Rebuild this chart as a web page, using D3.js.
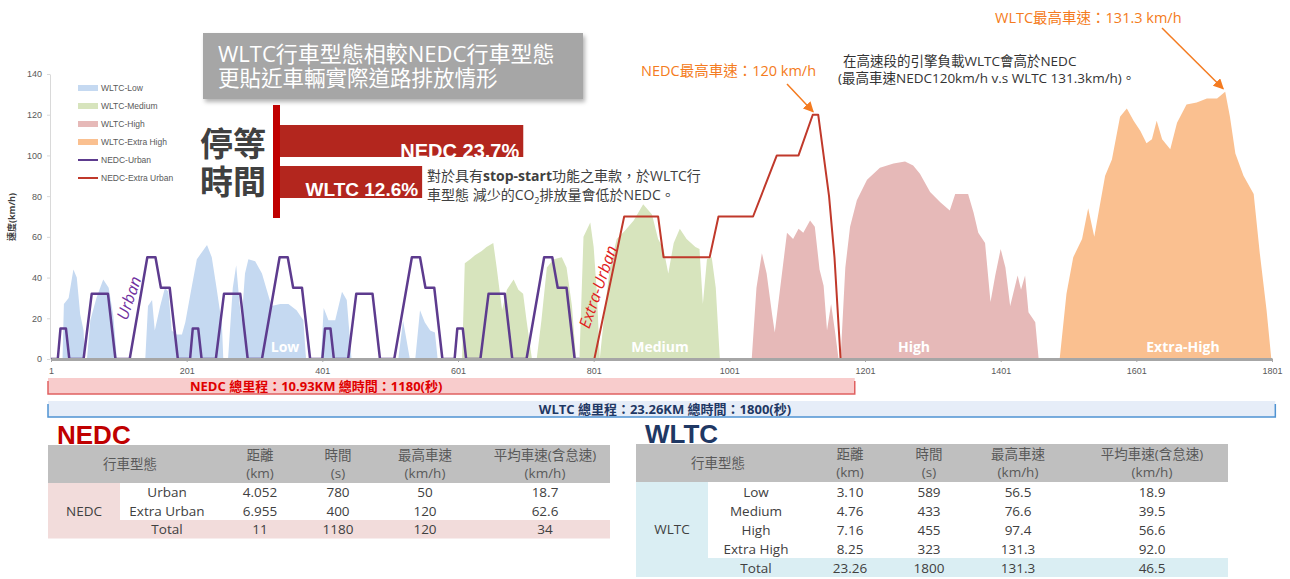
<!DOCTYPE html>
<html lang="zh-Hant">
<head>
<meta charset="UTF-8">
<title>WLTC vs NEDC 行車型態</title>
<script src="https://d3js.org/d3.v7.min.js"></script>
<style>
    body { margin: 0; background: #fff; }
    svg { display: block; font-family: "Open Sans", "Noto Sans CJK TC", sans-serif; }
    .axis text { fill: #595959; font-size: 9px; font-family: "Liberation Sans", "Noto Sans CJK TC", sans-serif; }
</style>
</head>
<body>
<svg id="chart" width="1290" height="579"></svg>
<script>
// ---- data: [second, km/h] ----
const wltcLow = [
    [1, 0], [18, 0], [20, 27], [27, 30], [34, 44], [39, 40], [44, 22], [49, 14], [51, 0],
    [54, 0], [59, 19], [68, 30], [78, 39], [86, 35], [93, 21], [98, 0],
    [140, 0], [144, 26], [150, 29], [154, 14], [162, 26], [169, 35], [174, 33], [179, 14], [186, 12], [194, 12],
    [199, 18], [206, 31], [216, 49], [231, 56], [238, 50], [245, 35], [253, 17], [255, 0],
    [262, 0], [269, 35], [274, 46], [279, 27], [282, 19], [287, 42], [292, 49], [302, 48], [312, 42], [319, 34],
    [326, 26], [339, 27], [351, 27], [363, 24], [373, 19], [377, 0],
    [399, 0], [403, 25], [410, 19], [420, 19], [430, 33], [437, 29], [444, 0],
    [513, 0], [520, 19], [530, 0],
    [538, 0], [545, 24], [552, 18], [560, 14], [567, 13], [571, 0], [589, 0]
];
const wltcMedium = [
    [590, 0], [607, 0], [611, 47], [619, 49], [626, 51], [636, 53], [643, 55], [653, 57], [658, 45], [666, 24],
    [673, 34], [683, 39], [690, 34], [697, 32], [702, 19], [710, 0],
    [717, 0], [724, 19], [732, 45], [742, 49], [754, 50], [761, 45], [769, 26], [775, 0],
    [780, 0], [786, 60], [796, 67], [801, 55], [806, 31], [810, 0],
    [818, 26], [825, 45], [835, 59], [847, 63], [860, 68], [874, 76], [887, 71], [896, 59], [904, 54], [911, 42],
    [919, 57], [928, 64], [938, 59], [951, 55], [957, 54], [962, 27], [968, 49], [975, 50], [981, 35], [987, 0], [1022, 0]
];
const wltcHigh = [
    [1023, 0], [1034, 0], [1041, 35], [1049, 52], [1056, 42], [1064, 22], [1068, 13], [1076, 35], [1086, 62], [1095, 59],
    [1103, 64], [1110, 62], [1120, 68], [1127, 65], [1134, 44], [1140, 36], [1145, 14], [1151, 27], [1157, 13], [1162, 0],
    [1165, 0], [1172, 45], [1179, 65], [1189, 78], [1204, 88], [1223, 94], [1243, 96], [1260, 97], [1272, 95], [1282, 91],
    [1297, 82], [1312, 77], [1326, 73], [1334, 81], [1353, 81], [1361, 72], [1368, 62], [1378, 57], [1386, 28], [1393, 41],
    [1401, 54], [1408, 45], [1415, 26], [1426, 41], [1431, 34], [1437, 41], [1442, 23], [1452, 18], [1457, 0], [1477, 0]
];
const wltcExtraHigh = [
    [1478, 0], [1488, 0], [1498, 32], [1508, 50], [1521, 59], [1530, 74], [1539, 60], [1548, 77], [1555, 90], [1565, 98],
    [1577, 119], [1587, 123], [1597, 117], [1607, 112], [1616, 106], [1624, 108], [1631, 117], [1639, 108], [1651, 103],
    [1661, 116], [1675, 125], [1690, 126], [1705, 128], [1720, 128], [1732, 131.3], [1739, 119], [1747, 101], [1759, 90],
    [1774, 81], [1783, 52], [1793, 24], [1800, 0]
];
const nedcUrban = [
    [1, 0], [11, 0], [15, 15], [23, 15], [28, 0], [49, 0], [61, 32], [85, 32], [96, 0], [117, 0], [143, 50], [155, 50], [163, 35], [176, 35], [188, 0],
    [206, 0], [210, 15], [218, 15], [223, 0], [244, 0], [256, 32], [280, 32], [291, 0], [312, 0], [338, 50], [350, 50], [358, 35], [371, 35], [383, 0],
    [401, 0], [405, 15], [413, 15], [418, 0], [439, 0], [451, 32], [475, 32], [486, 0], [507, 0], [533, 50], [545, 50], [553, 35], [566, 35], [578, 0],
    [596, 0], [600, 15], [608, 15], [613, 0], [634, 0], [646, 32], [670, 32], [681, 0], [702, 0], [728, 50], [740, 50], [748, 35], [761, 35], [773, 0],
    [780, 0]
];
const nedcExtraUrban = [
    [780, 0], [802, 0], [846, 70], [896, 70], [904, 50], [972, 50], [985, 70], [1036, 70], [1071, 100], [1103, 100],
    [1124, 120], [1132, 120], [1148, 80], [1156, 50], [1165, 0], [1180, 0]
];

const xTicks = [1, 201, 401, 601, 801, 1001, 1201, 1401, 1601, 1801];
const yTicks = [0, 20, 40, 60, 80, 100, 120, 140];

const legendLabels = ["WLTC-Low", "WLTC-Medium", "WLTC-High", "WLTC-Extra High", "NEDC-Urban", "NEDC-Extra Urban"];
const phaseLabels = ["Low", "Medium", "High", "Extra-High"];

const stopCycles = ["NEDC", "WLTC"];
const stopShares = [23.7, 12.6];

const nedcTotalTime = 1180, wltcTotalTime = 1800;
const nedcTotalText = "NEDC 總里程：10.93KM 總時間：1180(秒)";
const wltcTotalText = "WLTC 總里程：23.26KM 總時間：1800(秒)";

const tableHeaders = [["行車型態"], ["距離", "(km)"], ["時間", "(s)"], ["最高車速", "(km/h)"], ["平均車速(含怠速)", "(km/h)"]];
const nedcRows = [["Urban", "4.052", "780", "50", "18.7"], ["Extra Urban", "6.955", "400", "120", "62.6"]];
const nedcTotal = ["Total", "11", "1180", "120", "34"];
const wltcRows = [["Low", "3.10", "589", "56.5", "18.9"], ["Medium", "4.76", "433", "76.6", "39.5"],
                  ["High", "7.16", "455", "97.4", "56.6"], ["Extra High", "8.25", "323", "131.3", "92.0"]];
const wltcTotal = ["Total", "23.26", "1800", "131.3", "46.5"];

// ---- drawing ----
const svg = d3.select("#chart");
const areaColors = ["#c5d9f1", "#d7e4bd", "#e6b9b8", "#fac090"];
const urbanColor = "#5d3b8e", extraColor = "#c0392b", orange = "#f47b20";

const defs = svg.append("defs");
defs.append("filter").attr("id", "shadow").attr("x", "-10%").attr("y", "-10%").attr("width", "130%").attr("height", "140%")
    .append("feDropShadow").attr("dx", 2).attr("dy", 3).attr("stdDeviation", 2).attr("flood-color", "#000").attr("flood-opacity", 0.3);
defs.append("marker").attr("id", "arrow").attr("viewBox", "0 0 10 10").attr("refX", 9).attr("refY", 5)
    .attr("markerWidth", 7).attr("markerHeight", 7).attr("orient", "auto")
    .append("path").attr("d", "M0,0 L10,5 L0,10 z").attr("fill", orange);

const x = d3.scaleLinear().domain([1, 1801]).range([51, 1272]);
const y = d3.scaleLinear().domain([0, 140]).range([359, 74]);

// WLTC phases as filled areas
const area = d3.area().x(d => x(d[0])).y0(y(0)).y1(d => y(d[1]));
[wltcLow, wltcMedium, wltcHigh, wltcExtraHigh].forEach((s, i) => {
    svg.append("path").datum(s).attr("d", area).attr("fill", areaColors[i]);
});

// phase names inside the areas
const phaseLabelX = [285, 660, 914, 1183];
phaseLabels.forEach((t, i) => {
    svg.append("text").attr("x", phaseLabelX[i]).attr("y", 352).attr("text-anchor", "middle")
        .attr("fill", "#fff").attr("font-size", 14).attr("font-weight", "bold").text(t);
});

// NEDC lines
const line = d3.line().x(d => x(d[0])).y(d => y(d[1]));
svg.append("path").datum(nedcUrban).attr("d", line).attr("fill", "none")
    .attr("stroke", urbanColor).attr("stroke-width", 2.5).attr("stroke-linejoin", "round");
svg.append("path").datum(nedcExtraUrban).attr("d", line).attr("fill", "none")
    .attr("stroke", extraColor).attr("stroke-width", 2).attr("stroke-linejoin", "round");

svg.append("text").attr("transform", "translate(129,298) rotate(-71)").attr("text-anchor", "middle")
    .attr("dy", "0.35em").attr("fill", "#7030a0").attr("font-size", 16).attr("font-style", "italic").text("Urban");
svg.append("text").attr("transform", "translate(598,287) rotate(-71)").attr("text-anchor", "middle")
    .attr("dy", "0.35em").attr("fill", "#e0201c").attr("font-size", 16).attr("font-style", "italic").text("Extra-Urban");

// axes
const yAxis = svg.append("g").attr("class", "axis").attr("transform", "translate(50,0)")
    .call(d3.axisLeft(y).tickValues(yTicks).tickSize(3).tickPadding(5).tickSizeOuter(0));
yAxis.select(".domain").attr("stroke", "#d9d9d9");
yAxis.selectAll(".tick line").attr("stroke", "#d9d9d9");

const xAxis = svg.append("g").attr("class", "axis").attr("transform", "translate(0,359)")
    .call(d3.axisBottom(x).tickValues(xTicks).tickFormat(d3.format("d")).tickSize(3).tickPadding(6).tickSizeOuter(0));
xAxis.select(".domain").attr("stroke", "#a6a6a6").attr("stroke-width", 3);
xAxis.selectAll(".tick line").attr("stroke", "#a6a6a6");

svg.append("text").attr("transform", "translate(15,217) rotate(-90)").attr("text-anchor", "middle")
    .attr("fill", "#404040").attr("font-size", 9).attr("font-weight", "bold").text("速度(km/h)");

// legend
legendLabels.forEach((t, i) => {
    const ly = 88 + i * 18;
    if (i < 4) {
        svg.append("rect").attr("x", 78).attr("y", ly - 3).attr("width", 20).attr("height", 6).attr("fill", areaColors[i]);
    } else {
        svg.append("line").attr("x1", 78).attr("x2", 98).attr("y1", ly).attr("y2", ly)
            .attr("stroke", i === 4 ? urbanColor : extraColor).attr("stroke-width", 2);
    }
    svg.append("text").attr("x", 101).attr("y", ly + 3).attr("fill", "#595959").attr("font-size", 8.5)
        .attr("font-family", "Liberation Sans, sans-serif").text(t);
});

// title box
svg.append("rect").attr("x", 203).attr("y", 33).attr("width", 380).attr("height", 66)
    .attr("fill", "#a6a6a6").attr("filter", "url(#shadow)");
const title = svg.append("text").attr("fill", "#fff").attr("font-size", 22);
title.append("tspan").attr("x", 218).attr("y", 62).text("WLTC行車型態相較NEDC行車型態");
title.append("tspan").attr("x", 218).attr("y", 86).attr("font-size", 21.5).text("更貼近車輛實際道路排放情形");

// stop time comparison bars
const stopTitle = svg.append("text").attr("fill", "#404040").attr("font-size", 33).attr("font-weight", "bold");
stopTitle.append("tspan").attr("x", 200).attr("y", 156).text("停等");
stopTitle.append("tspan").attr("x", 200).attr("y", 194).text("時間");

const sx = d3.scaleLinear().domain([-3, 24]).range([0, 246]);
const sy = d3.scaleBand().domain(stopCycles).range([125, 198]).paddingInner(0.22);
stopCycles.forEach((c, i) => {
    const w = sx(stopShares[i]);
    svg.append("rect").attr("x", 280).attr("y", sy(c)).attr("width", w).attr("height", sy.bandwidth()).attr("fill", "#b3261e");
    svg.append("text").attr("x", 280 + w - 4).attr("y", sy(c) + sy.bandwidth() - (i === 0 ? -1 : 2))
        .attr("text-anchor", "end").attr("fill", "#fff").attr("font-size", i === 0 ? 20 : 19).attr("font-weight", "bold")
        .attr("font-family", "Liberation Sans, Arial, sans-serif").text(c + " " + stopShares[i] + "%");
});
svg.append("rect").attr("x", 273).attr("y", 105).attr("width", 7).attr("height", 113).attr("fill", "#c00000");

const note = svg.append("text").attr("fill", "#404040").attr("font-size", 14);
const n1 = note.append("tspan").attr("x", 427).attr("y", 181);
n1.append("tspan").text("對於具有");
n1.append("tspan").attr("font-weight", "bold").text("stop-start");
n1.append("tspan").text("功能之車款，於WLTC行");
const n2 = note.append("tspan").attr("x", 427).attr("y", 200);
n2.append("tspan").text("車型態 減少的CO");
n2.append("tspan").attr("font-size", 9).attr("dy", 4).text("2");
n2.append("tspan").attr("dy", -4).text("排放量會低於NEDC。");

// max speed annotations
svg.append("text").attr("x", 641).attr("y", 76).attr("fill", orange).attr("font-size", 14.5).text("NEDC最高車速：120 km/h");
svg.append("line").attr("x1", 787).attr("y1", 84).attr("x2", x(1126) - 1).attr("y2", y(120) - 3)
    .attr("stroke", orange).attr("stroke-width", 1.5).attr("marker-end", "url(#arrow)");
svg.append("text").attr("x", 995).attr("y", 23).attr("fill", orange).attr("font-size", 14.5).text("WLTC最高車速：131.3 km/h");
svg.append("line").attr("x1", 1162).attr("y1", 28).attr("x2", x(1732) - 2).attr("y2", y(131.3) - 3)
    .attr("stroke", orange).attr("stroke-width", 1.5).attr("marker-end", "url(#arrow)");
const hiNote = svg.append("text").attr("fill", "#333").attr("font-size", 13.5);
hiNote.append("tspan").attr("x", 843).attr("y", 66).text("在高速段的引擎負載WLTC會高於NEDC");
hiNote.append("tspan").attr("x", 838).attr("y", 83).text("(最高車速NEDC120km/h v.s WLTC 131.3km/h)。");

// total distance / time bars under the axis
function totalBar(total, top, fill, edge, label, color, tx, anchor) {
    const x0 = x(1) - 3, x1 = x(total) + 4, h = 16;
    svg.append("rect").attr("x", x0).attr("y", top).attr("width", x1 - x0).attr("height", h).attr("fill", fill);
    svg.append("path").attr("d", `M${x0},${top + 3}V${top + h}H${x1}V${top + 3}`)
        .attr("fill", "none").attr("stroke", edge).attr("stroke-width", 1.5);
    svg.append("text").attr("x", tx).attr("y", top + 12.5).attr("text-anchor", anchor).attr("fill", color)
        .attr("font-size", 13).attr("font-weight", "bold").text(label);
}
totalBar(nedcTotalTime, 378, "#f8cccc", "#e06060", nedcTotalText, "#e00000", 190, "start");
totalBar(wltcTotalTime, 401, "#e6edf8", "#4f93d2", wltcTotalText, "#1f3864", 665, "middle");

// tables
function drawTable(t) {
    const g = svg.append("g");
    const bodyTop = t.top + t.headerH;
    const totalTop = bodyTop + t.rows.length * t.rowH;
    g.append("text").attr("x", t.x0 + 9).attr("y", t.top - 1).attr("fill", t.titleColor)
        .attr("font-size", 26).attr("font-weight", "bold").attr("font-family", "Liberation Sans, Arial, sans-serif").text(t.title);
    g.append("rect").attr("x", t.x0).attr("y", t.top).attr("width", t.x1 - t.x0).attr("height", t.headerH).attr("fill", "#bfbfbf");
    g.append("rect").attr("x", t.x0).attr("y", bodyTop).attr("width", t.groupW).attr("height", t.rows.length * t.rowH).attr("fill", t.fill);
    g.append("rect").attr("x", t.x0).attr("y", totalTop).attr("width", t.x1 - t.x0).attr("height", t.rowH).attr("fill", t.fill);
    const txt = (cx, cy, s, col) => g.append("text").attr("x", cx).attr("y", cy).attr("text-anchor", "middle")
        .attr("fill", col || "#404040").attr("font-size", 13.5).text(s);
    tableHeaders.forEach((h, i) => {
        const cx = i === 0 ? t.headX : t.colX[i];
        if (h.length === 1) txt(cx, t.top + t.headerH / 2 + 5, h[0], "#595959");
        else h.forEach((s, j) => txt(cx, t.top + 15 + j * 18, s, "#595959"));
    });
    t.rows.forEach((r, ri) => r.forEach((s, ci) => txt(t.colX[ci], bodyTop + ri * t.rowH + t.rowH / 2 + 5, s)));
    t.total.forEach((s, ci) => txt(t.colX[ci], totalTop + t.rowH / 2 + 5, s));
    txt(t.x0 + t.groupW / 2, bodyTop + t.rows.length * t.rowH / 2 + 14, t.title);
}
drawTable({ title: "NEDC", titleColor: "#c00000", x0: 48, x1: 610, top: 445, headerH: 38, rowH: 18.5, groupW: 72,
    headX: 130, colX: [167, 260, 338, 425, 545], rows: nedcRows, total: nedcTotal, fill: "#f2dcdb" });
drawTable({ title: "WLTC", titleColor: "#1f3864", x0: 636, x1: 1228, top: 444, headerH: 38, rowH: 19, groupW: 72,
    headX: 718, colX: [756, 850, 929, 1018, 1152], rows: wltcRows, total: wltcTotal, fill: "#daeef3" });
</script>
</body>
</html>
